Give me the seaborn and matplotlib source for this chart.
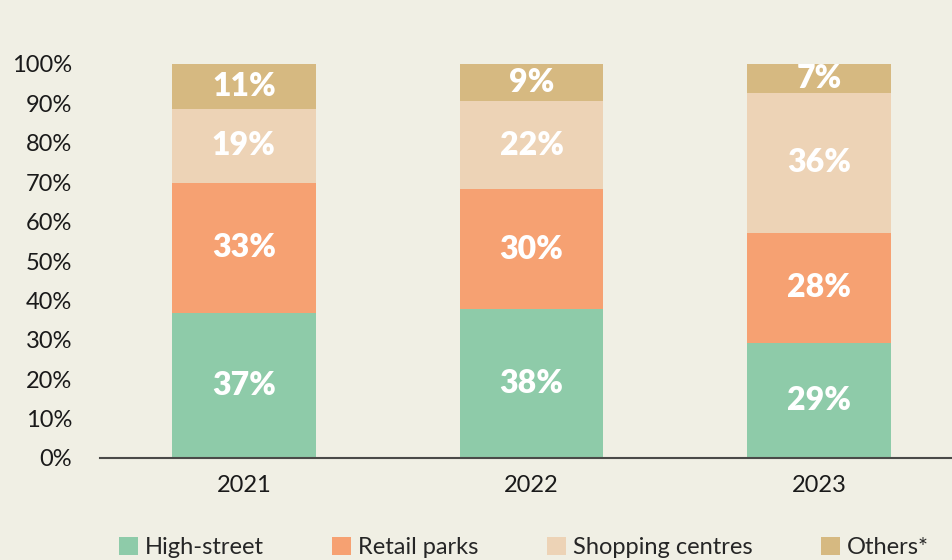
import pandas as pd
import matplotlib.pyplot as plt
import seaborn as sns
from matplotlib.patches import Patch

years = ["2021", "2022", "2023"]
segments = ["High-street", "Retail parks", "Shopping centres", "Others*"]
high_street = [36.8, 37.8, 29.2]
retail_parks = [33.0, 30.4, 27.9]
shopping_centres = [18.8, 22.4, 35.6]
others = [11.4, 9.4, 7.3]
colors = ["#8ECBA9", "#F6A172", "#EDD3B6", "#D6B981"]
bg = "#F0EFE4"

sns.set_theme(style="white")
plt.rcParams["font.family"] = ["Lato", "DejaVu Sans"]

series = [high_street, retail_parks, shopping_centres, others]
cum = [0, 0, 0]
tops = []
for vals in series:
    cum = [c + v for c, v in zip(cum, vals)]
    tops.append(list(cum))

fig = plt.figure(figsize=(9.53, 5.60), dpi=100, facecolor=bg)
ax = fig.add_axes([100 / 953, 102 / 560, 853 / 953, 394 / 560])
ax.set_facecolor(bg)

# stacked look: draw cumulative totals from the top segment down
for i in range(len(series) - 1, -1, -1):
    d = pd.DataFrame({"year": years, "val": tops[i]})
    sns.barplot(data=d, x="year", y="val", color=colors[i], saturation=1,
                width=0.5, ax=ax, linewidth=0)

for i, vals in enumerate(series):
    for j, v in enumerate(vals):
        center = tops[i][j] - v / 2
        ax.text(j, center, f"{round(v)}%", ha="center", va="center",
                color="white", fontsize=23, fontweight="heavy")

ax.set_xlim(-0.5, 2.465)
ax.set_ylim(0, 100)
ax.set_yticks(range(0, 101, 10))
ax.set_yticklabels([f"{t}%" for t in range(0, 101, 10)])
ax.set_xlabel("")
ax.set_ylabel("")
ax.tick_params(axis="both", labelsize=17, colors="#1a1a1a", length=0)
ax.tick_params(axis="y", pad=20)
ax.tick_params(axis="x", pad=12)
for s in ["top", "right", "left"]:
    ax.spines[s].set_visible(False)
ax.spines["bottom"].set_color("#4a4a48")
ax.spines["bottom"].set_linewidth(1.5)

handles = [Patch(facecolor=c, edgecolor="none") for c in colors]
fig.legend(handles, segments, loc="lower center", ncol=4, frameon=False,
           bbox_to_anchor=(0.55, -0.035), fontsize=17, handlelength=0.8,
           handleheight=0.8, handletextpad=0.3, columnspacing=2.9)

fig.savefig("out.png", dpi=100, facecolor=bg)
